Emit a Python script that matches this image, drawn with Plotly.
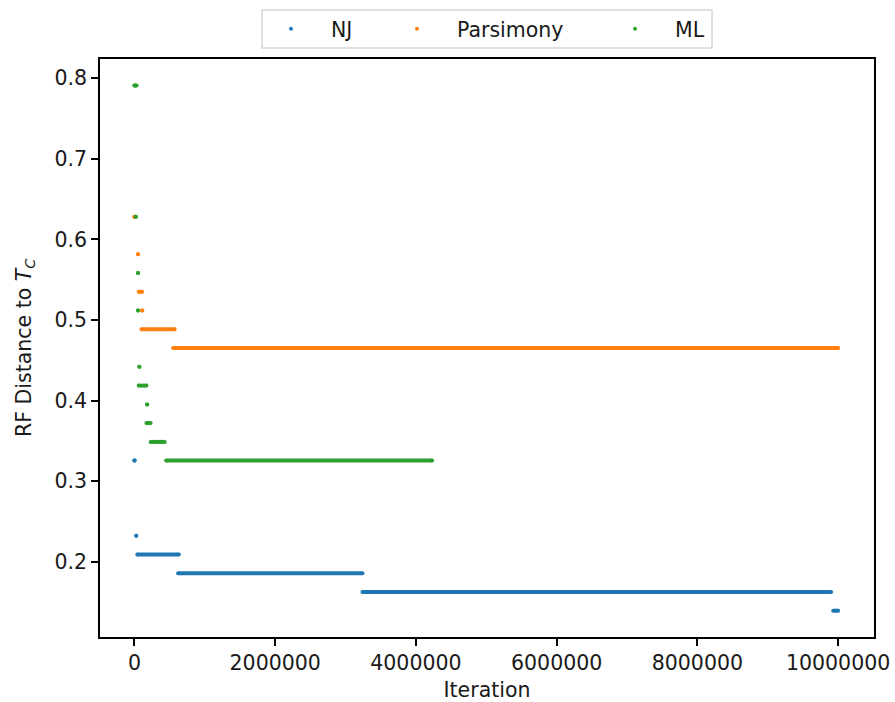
import plotly.graph_objects as go

# ---- data (iteration ranges of each plateau and its RF distance) ----
nj_start = [0, 25000, 40000, 620000, 3240000, 9930000]
nj_end = [0, 25000, 630000, 3240000, 9900000, 10000000]
nj_value = [0.3256, 0.2326, 0.2093, 0.1860, 0.1628, 0.1395]

pars_start = [0, 50000, 60000, 110000, 100000, 550000]
pars_end = [0, 50000, 110000, 110000, 570000, 10000000]
pars_value = [0.6279, 0.5814, 0.5349, 0.5116, 0.4884, 0.4651]

ml_start = [0, 20000, 50000, 50000, 70000, 60000, 180000, 170000, 230000, 450000]
ml_end = [30000, 20000, 50000, 50000, 70000, 170000, 180000, 230000, 430000, 4230000]
ml_value = [0.7907, 0.6279, 0.5581, 0.5116, 0.4419, 0.4186, 0.3953, 0.3721, 0.3488, 0.3256]

names = ["NJ", "Parsimony", "ML"]
colors = ["#1f77b4", "#ff7f0e", "#2ca02c"]
x_ticks = [0, 2000000, 4000000, 6000000, 8000000, 10000000]
y_ticks = [0.2, 0.3, 0.4, 0.5, 0.6, 0.7, 0.8]

FONT = "DejaVu Sans"
FS = 20.5
TXT = "#1a1a1a"

W, H = 895, 702
L, R, T, B = 100, 874, 59, 637


def px_x(p):
    return (p - L) / (R - L)


def px_y(p):
    return (B - p) / (B - T)


fig = go.Figure()
series = [(nj_start, nj_end, nj_value), (pars_start, pars_end, pars_value), (ml_start, ml_end, ml_value)]
legends = ["legend", "legend2", "legend3"]
for (s, e, v), name, col, lg in zip(series, names, colors, legends):
    xs, ys = [], []
    for a, b, c in zip(s, e, v):
        xs += [a, b, None]
        ys += [c, c, None]
    fig.add_trace(go.Scatter(
        x=xs, y=ys, mode="lines+markers", name=name, showlegend=False,
        line=dict(color=col, width=4), marker=dict(color=col, size=4, line=dict(width=0)),
        hoverinfo="skip"))
    fig.add_trace(go.Scatter(
        x=[s[0]], y=[v[0]], mode="markers", name=name, legend=lg,
        marker=dict(color=col, size=4, line=dict(width=0)), hoverinfo="skip"))

axis_common = dict(
    showline=True, mirror=True, linecolor="black", linewidth=1.5,
    ticks="outside", ticklen=7, tickwidth=1.5, tickcolor="black",
    showgrid=False, zeroline=False,
    tickfont=dict(family=FONT, size=FS, color=TXT),
)

fig.update_xaxes(range=[-490000, 10510000], tickvals=x_ticks, tickformat="d",
                 title=dict(text="Iteration", font=dict(family=FONT, size=FS, color=TXT), standoff=9),
                 **axis_common)
fig.update_yaxes(range=[0.1069, 0.8236], tickvals=y_ticks, tickformat=".1f", **axis_common)

fig.add_annotation(text="RF Distance to <i>T</i><sub><i>C</i></sub>", textangle=-90,
                   xref="paper", yref="paper", x=px_x(25), y=0.5, showarrow=False,
                   xanchor="center", yanchor="middle",
                   font=dict(family=FONT, size=FS, color=TXT))

leg_common = dict(orientation="h", yanchor="middle", xanchor="left", bgcolor="rgba(0,0,0,0)",
                  borderwidth=0, font=dict(family=FONT, size=FS, color=TXT),
                  y=px_y(29), itemwidth=70)
fig.update_layout(
    legend=dict(x=px_x(251), **leg_common),
    legend2=dict(x=px_x(377), **leg_common),
    legend3=dict(x=px_x(595), **leg_common),
)

fig.add_shape(type="rect", xref="paper", yref="paper",
              x0=px_x(262), x1=px_x(712), y0=px_y(48), y1=px_y(10),
              line=dict(color="#d6d6d6", width=1.5), fillcolor="rgba(255,255,255,0.8)", layer="below")

fig.update_layout(
    width=W, height=H,
    margin=dict(l=L, r=W - R, t=T, b=H - B, autoexpand=False),
    plot_bgcolor="white", paper_bgcolor="white",
    font=dict(family=FONT, size=FS, color=TXT),
)

fig.write_html("out.html")
